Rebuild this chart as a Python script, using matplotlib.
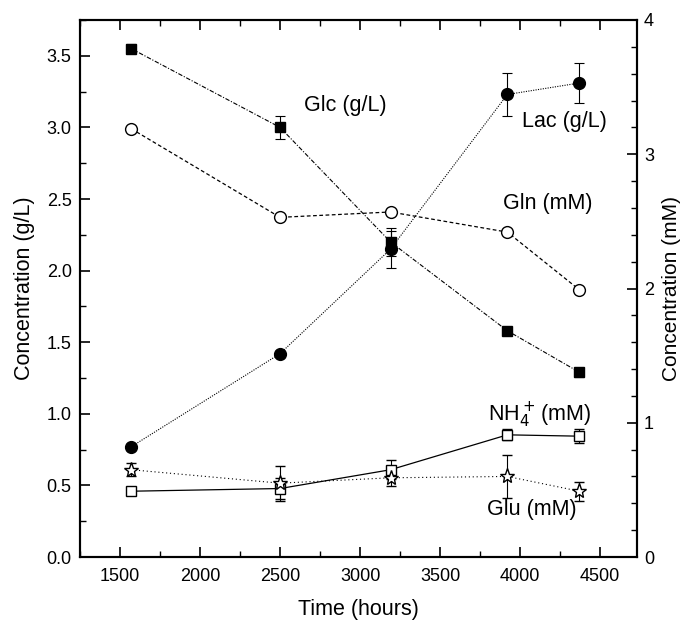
import numpy as np
import matplotlib
matplotlib.use("Agg")
import matplotlib.pyplot as plt
from matplotlib.ticker import MultipleLocator

plt.rcParams["font.family"] = ["Liberation Sans", "DejaVu Sans"]

# Sampling times
time_h = [1570, 2500, 3190, 3920, 4370]

# g/L series (left axis)
glc = [3.55, 3.00, 2.20, 1.58, 1.29]
glc_err = [0.03, 0.08, 0.10, 0.02, 0.03]
lac = [0.77, 1.42, 2.15, 3.23, 3.31]
lac_err = [0.02, 0.02, 0.13, 0.15, 0.14]

# mM series (right axis)
gln = [3.19, 2.53, 2.57, 2.42, 1.99]
nh4 = [0.49, 0.51, 0.65, 0.91, 0.90]
nh4_err = [0.02, 0.08, 0.07, 0.04, 0.05]
glu = [0.65, 0.55, 0.59, 0.60, 0.49]
glu_err = [0.05, 0.13, 0.06, 0.16, 0.07]

fig = plt.figure(figsize=(6.88, 6.21), dpi=100)
ax = fig.add_axes([80 / 688, 64 / 621, 557 / 688, 537 / 621])
ax2 = ax.twinx()

eb = dict(ecolor="black", elinewidth=0.8, capsize=3.5, capthick=0.8)

ax.errorbar(time_h, glc, yerr=glc_err, color="black", lw=0.8,
            linestyle=(0, (4, 1.5, 1, 1.5)), marker="s", ms=7.5,
            mfc="black", mec="black", **eb)
ax.errorbar(time_h, lac, yerr=lac_err, color="black", lw=0.8,
            linestyle=(0, (1, 1.2)), marker="o", ms=8.5,
            mfc="black", mec="black", **eb)

ax2.plot(time_h, gln, color="black", lw=0.9, linestyle=(0, (3, 2)),
         marker="o", ms=8.5, mfc="white", mec="black", mew=1.0)
ax2.errorbar(time_h, nh4, yerr=nh4_err, color="black", lw=0.9,
             linestyle="-", marker="s", ms=7.5, mfc="white", mec="black",
             mew=1.0, **eb)
ax2.errorbar(time_h, glu, yerr=glu_err, color="black", lw=0.8,
             linestyle=(0, (1, 2.5)), marker="*", ms=11, mfc="white",
             mec="black", mew=1.0, **eb)

# Axis ranges and ticks
ax.set_xlim(1250, 4730)
ax.set_ylim(0, 3.75)
ax2.set_ylim(0, 4)
ax.xaxis.set_major_locator(MultipleLocator(500))
ax.xaxis.set_minor_locator(MultipleLocator(250))
ax.yaxis.set_major_locator(MultipleLocator(0.5))
ax.yaxis.set_minor_locator(MultipleLocator(0.25))
ax.yaxis.set_major_formatter(plt.FormatStrFormatter("%.1f"))
ax2.yaxis.set_major_locator(MultipleLocator(1))
ax2.yaxis.set_minor_locator(MultipleLocator(0.2))

ax.tick_params(axis="x", which="both", direction="in", top=True,
               labelsize=13, pad=8)
ax.tick_params(axis="y", which="both", direction="in", right=False,
               labelsize=13, pad=6)
ax.tick_params(which="major", length=7, width=1.2)
ax.tick_params(which="minor", length=4, width=1.0)
ax2.tick_params(axis="y", which="both", direction="in", labelsize=13, pad=5)
ax2.tick_params(which="major", length=7, width=1.2)
ax2.tick_params(which="minor", length=4, width=1.0)
for a in (ax, ax2):
    for s in a.spines.values():
        s.set_linewidth(1.5)

ax.set_xlabel("Time (hours)", fontsize=15.5, labelpad=10)
ax.set_ylabel("Concentration (g/L)", fontsize=15.5, labelpad=8)
ax2.set_ylabel("Concentration (mM)", fontsize=15, labelpad=6)

# Series labels
ax.text(2650, 3.15, "Glc (g/L)", fontsize=15.5, va="center")
ax.text(4010, 3.04, "Lac (g/L)", fontsize=15.5, va="center")
ax.text(3895, 2.47, "Gln (mM)", fontsize=15.5, va="center")
ax.text(3800, 0.99, r"NH$_4^+\!$ (mM)", fontsize=15.5, va="center")
ax.text(3795, 0.33, "Glu (mM)", fontsize=15.5, va="center")

fig.savefig("out.png", dpi=100)
